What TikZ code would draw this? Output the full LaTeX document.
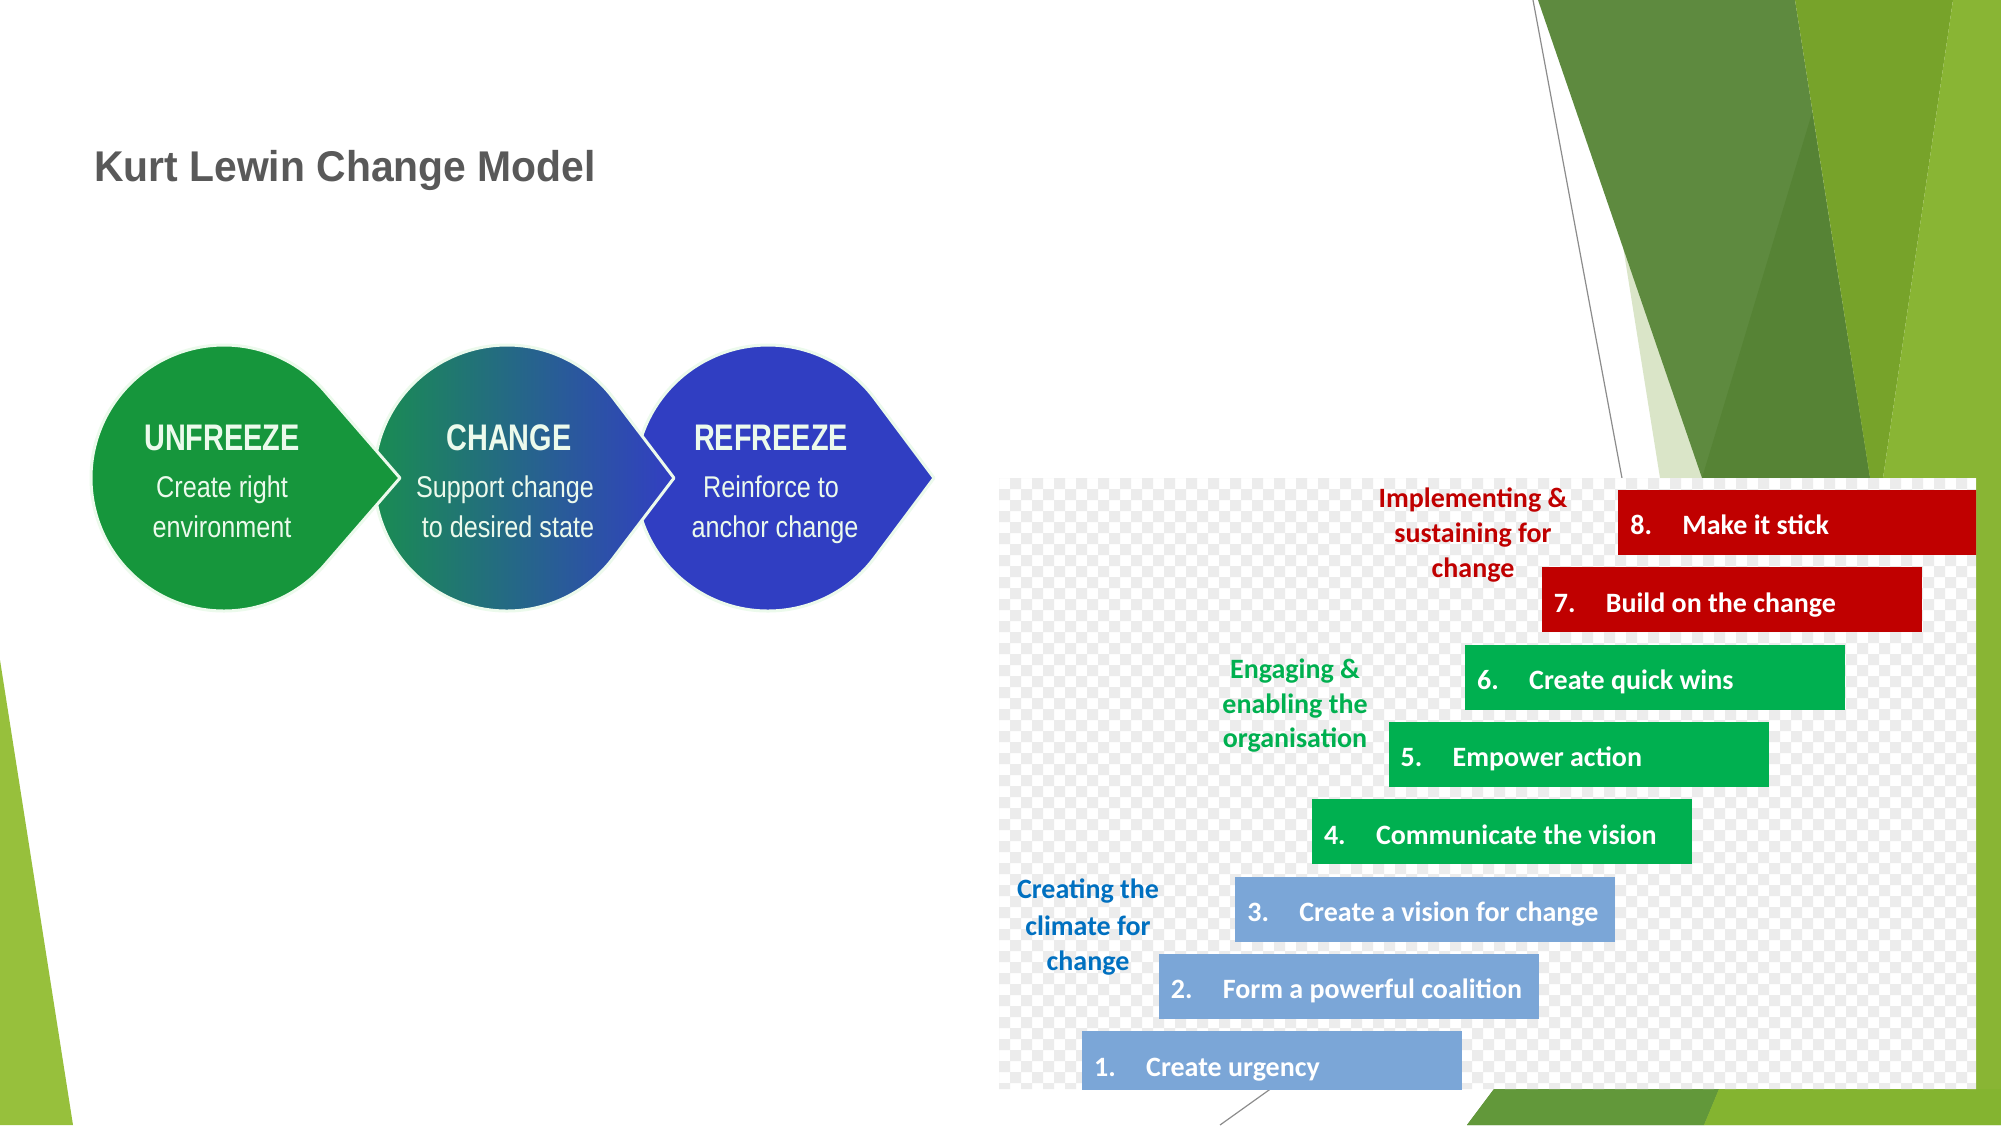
\documentclass[tikz,border=0pt]{standalone}
\usepackage{fontspec}
\setmainfont{Liberation Sans}
\newfontfamily\titlefont{Liberation Sans}[FakeStretch=0.95]
\newfontfamily\narrowb{Liberation Sans}[FakeStretch=0.78]
\newfontfamily\narrowr{Liberation Sans}[FakeStretch=0.84]
\newfontfamily\calb{Carlito}
\definecolor{titlegray}{RGB}{89,89,89}
\definecolor{leftg}{RGB}{151,192,60}
\definecolor{paleg}{RGB}{218,229,200}
\definecolor{darkg}{RGB}{94,138,63}
\definecolor{darkerg}{RGB}{86,131,53}
\definecolor{medg}{RGB}{119,163,42}
\definecolor{lightg}{RGB}{137,181,52}
\definecolor{botdark}{RGB}{98,152,58}
\definecolor{botlight}{RGB}{132,180,48}
\definecolor{linegray}{RGB}{140,140,140}
\definecolor{checkg}{RGB}{236,236,236}
\definecolor{ufg}{RGB}{22,150,60}
\definecolor{chL}{RGB}{24,145,75}
\definecolor{chR}{RGB}{50,62,195}
\definecolor{rfb}{RGB}{48,62,194}
\definecolor{lwtext}{RGB}{236,250,236}
\definecolor{kred}{RGB}{192,0,0}
\definecolor{kgreen}{RGB}{0,176,80}
\definecolor{kblue}{RGB}{123,166,215}
\definecolor{kbluetext}{RGB}{0,112,192}
\tikzset{
  lw/.style={text=lwtext, inner sep=0pt, anchor=base},
  lwtitle/.style={lw, font=\narrowb\bfseries\fontsize{37}{42}\selectfont},
  lwsub/.style={lw, font=\narrowr\fontsize{30}{34}\selectfont},
  lwshape/.style={draw=lwtext, line width=3pt, line join=round},
  kbar/.style={rectangle, inner sep=0pt, minimum width=380pt, minimum height=65pt, anchor=north west},
  ktext/.style={text=white, inner sep=0pt, anchor=base west, font=\calb\bfseries\fontsize{28}{32}\selectfont},
  klabel/.style={inner sep=0pt, anchor=base, font=\calb\bfseries\fontsize{28}{32}\selectfont},
  thinline/.style={draw=linegray, line width=1.2pt}
}
\begin{document}
\begin{tikzpicture}[x=1pt,y=-1pt]
\useasboundingbox (0,0) rectangle (2001,1125);
\fill[white] (0,0) rectangle (2001,1125);
% ---- theme decoration ----
\fill[leftg] (0,660) -- (73,1125) -- (0,1125) -- cycle;
\draw[thinline] (1533,0) -- (1640,575);
\draw[thinline] (1220,1125) -- (1290,1075);
\fill[paleg] (1622,240) -- (1703,478) -- (1660,478) -- cycle;
\fill[darkg] (1538,0) -- (1795,0) -- (1870,478) -- (1880,700) -- (1719,1089) -- (1704,1125) -- (1467,1125) -- (1494,1089) -- (1702,478) -- cycle;
\fill[darkerg] (1702,478) -- (1812,113) -- (1870,478) -- cycle;
\fill[medg] (1795,0) -- (1953,0) -- (1883,478) -- (1870,478) -- cycle;
\fill[lightg] (1953,0) -- (2001,0) -- (2001,1125) -- (1704,1125) -- (1719,1089) -- (1883,478) -- cycle;
\fill[botdark] (1467,1125) -- (1494,1089) -- (1719,1089) -- (1704,1125) -- cycle;
\fill[botlight] (1704,1125) -- (1719,1089) -- (2001,1089) -- (2001,1125) -- cycle;
% ---- title ----
\node[anchor=base west, inner sep=0pt, text=titlegray, font=\titlefont\bfseries\fontsize{43}{48}\selectfont] (title) at (94,181) {Kurt Lewin Change Model};
% ---- Lewin teardrops ----
\pgfmathsetmacro\angR{acos(133/166)}
\pgfmathsetmacro\angC{acos(133/167)}
\pgfmathsetmacro\angU{acos(133/176)}
\path[lwshape, fill=rfb] (768+166,478) -- ({768+133*cos(\angR)},{478+133*sin(\angR)}) arc[start angle=\angR, end angle=360-\angR, radius=133] -- cycle;
\path[lwshape, left color=chL, right color=chR] (507+167,478) -- ({507+133*cos(\angC)},{478+133*sin(\angC)}) arc[start angle=\angC, end angle=360-\angC, radius=133] -- cycle;
\path[lwshape, fill=ufg] (224+176,478) -- ({224+133*cos(\angU)},{478+133*sin(\angU)}) arc[start angle=\angU, end angle=360-\angU, radius=133] -- cycle;
\node[lwtitle] (uft) at (222,450) {UNFREEZE};
\node[lwsub] (ufa) at (222,497) {Create right};
\node[lwsub] (ufb) at (222,537) {environment};
\node[lwtitle] (cht) at (509,450) {CHANGE};
\node[lwsub] (cha) at (505,497) {Support change};
\node[lwsub] (chb) at (508,537) {to desired state};
\node[lwtitle] (rft) at (771,450) {REFREEZE};
\node[lwsub] (rfa) at (771,497) {Reinforce to};
\node[lwsub] (rfb) at (775,537) {anchor change};
% ---- Kotter background ----
\fill[white] (999,478) rectangle (1976,1089);
\begin{scope}
\clip (999,478) rectangle (1976,1089);
\fill[checkg, even odd rule]
  \foreach \i in {0,2,...,88} {(999+11*\i,478) rectangle ++(11,611)}
  \foreach \j in {0,2,...,56} {(999,478+11*\j) rectangle ++(977,11)};
\foreach \n/\col/\txt in {1/kblue/Create urgency, 2/kblue/Form a powerful coalition, 3/kblue/Create a vision for change, 4/kgreen/Communicate the vision, 5/kgreen/Empower action, 6/kgreen/Create quick wins, 7/kred/Build on the change, 8/kred/Make it stick}{
  \node[kbar, fill=\col] (b\n) at ({1082+76.6*(\n-1)},{1031-77.3*(\n-1)}) {};
  \node[ktext] (bn\n) at ([xshift=12pt,yshift=-45pt]b\n.north west) {\n.};
  \node[ktext] (bt\n) at ([xshift=64pt,yshift=-45pt]b\n.north west) {\txt};
}
\end{scope}
\node[klabel, text=kred] (ra) at (1473,507) {Implementing \&};
\node[klabel, text=kred] (rb) at (1473,542) {sustaining for};
\node[klabel, text=kred] (rc) at (1473,577) {change};
\node[klabel, text=kgreen] (ga) at (1295,678) {Engaging \&};
\node[klabel, text=kgreen] (gb) at (1295,713) {enabling the};
\node[klabel, text=kgreen] (gc) at (1295,747) {organisation};
\node[klabel, text=kbluetext] (ca) at (1088,898) {Creating the};
\node[klabel, text=kbluetext] (cb) at (1088,935) {climate for};
\node[klabel, text=kbluetext] (cc) at (1088,970) {change};
\end{tikzpicture}
\end{document}
